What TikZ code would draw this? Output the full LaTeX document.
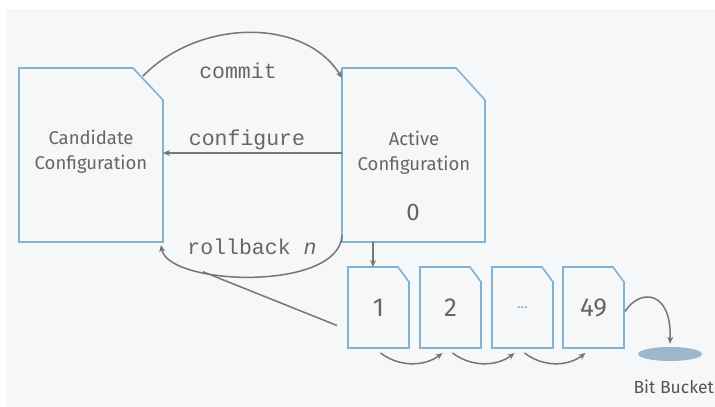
\documentclass[tikz,border=0pt]{standalone}
\usepackage{fontspec}
\setmainfont{Fira Sans}
\setmonofont{Liberation Mono}
\usetikzlibrary{arrows.meta,shapes.geometric,calc}
\definecolor{bg}{HTML}{F6F7F8}
\definecolor{edge}{HTML}{82B2D2}
\definecolor{txt}{HTML}{666666}
\definecolor{arr}{HTML}{767676}
\definecolor{bucketc}{HTML}{9DB7CA}
\definecolor{bbtxt}{HTML}{555555}
\newcommand{\DogEarBox}[3]{\draw[boxline] (#1.south west) -- (#1.north west) -- ([xshift=-#2pt]#1.north east) -- ([yshift=-#3pt]#1.north east) -- (#1.south east) -- cycle;}
\begin{document}
\begin{tikzpicture}[x=1pt,y=-1pt,
  boxline/.style={draw=edge,line width=1.6pt,line join=miter},
  holder/.style={inner sep=0pt,outer sep=0pt},
  conn/.style={draw=arr,line width=1.5pt,-{Stealth[length=7pt,width=6pt]}},
  plain/.style={draw=arr,line width=1.5pt},
  cmd/.style={font=\ttfamily\fontsize{21.5}{23}\selectfont,text=txt},
  lbl/.style={font=\fontsize{18.5}{25}\selectfont,text=txt,align=center},
  num/.style={font=\fontsize{26}{28}\selectfont,text=txt}]
\useasboundingbox (0,0) rectangle (715,407);
\fill[white] (0,0) rectangle (715,407);
\fill[bg] (7,9) rectangle (715,407);
% boxes
\node[holder,minimum width=144pt,minimum height=174pt] (cand) at (91,155) {};
\node[holder,minimum width=143pt,minimum height=174pt] (act) at (413.5,155) {};
\node[holder,minimum width=61pt,minimum height=81pt,num] (b1) at (378.5,307.5) {1};
\node[holder,minimum width=61pt,minimum height=81pt,num] (b2) at (450.5,307.5) {2};
\node[holder,minimum width=61pt,minimum height=81pt,font=\fontsize{15}{16}\selectfont,text=edge!70!gray] (b3) at (522.5,307.5) {...};
\node[holder,minimum width=61pt,minimum height=81pt,num] (b4) at (593.5,307.5) {49};
\DogEarBox{cand}{30}{32}
\DogEarBox{act}{29}{32}
\DogEarBox{b1}{11}{15}
\DogEarBox{b2}{11}{15}
\DogEarBox{b3}{11}{15}
\DogEarBox{b4}{11}{15}
% labels
\node[lbl] (candlbl) at (91,152) {Candidate\\Configuration};
\node[lbl] (actlbl) at (414,153) {Active\\Configuration};
\node[font=\fontsize{24}{26}\selectfont,text=txt] (zero) at (413,212) {0};
\node[ellipse,fill=bucketc,minimum width=64pt,minimum height=14pt,inner sep=0pt] (bucket) at (670,354) {};
\node[anchor=west,font=\fontsize{17.5}{19}\selectfont,text=bbtxt] (bblbl) at (630,387) {Bit Bucket};
% connectors
\draw[conn] ([xshift=-20pt,yshift=-8pt]cand.north east) .. controls (200,18) and (305,18) .. ([yshift=-10pt]act.north west);
\node[cmd] (commitlbl) at (238,71) {commit};
\draw[conn] ([yshift=2pt]act.west) -- ([yshift=2pt]cand.east);
\node[cmd] (configlbl) at (247,140) {configure};
\draw[conn] ([yshift=7pt]act.south west) .. controls (340,292) and (168,286) .. coordinate[pos=0.7] (merge) ([xshift=-2pt,yshift=-3pt]cand.south east);
\draw[plain] ([xshift=-11pt,yshift=-18pt]b1.west) -- (merge);
\node[cmd] (rolllbl) at (252,247) {rollback \textit{n}};
\draw[conn] ([xshift=31pt]act.south west) -- ([xshift=31pt]act.south west |- b1.north);
\foreach \a/\b in {b1/b2,b2/b3,b3/b4}
  \draw[conn] ([xshift=2pt,yshift=-5pt]\a.south) .. controls ($(\a.south)+(22,20)$) and ($(\b.south)+(-25,18)$) .. ([xshift=-8pt,yshift=-5pt]\b.south);
\draw[conn] ([xshift=1pt,yshift=-4pt]b4.east) .. controls (640,288) and (672,290) .. ([yshift=3pt]bucket.north);
\end{tikzpicture}
\end{document}
